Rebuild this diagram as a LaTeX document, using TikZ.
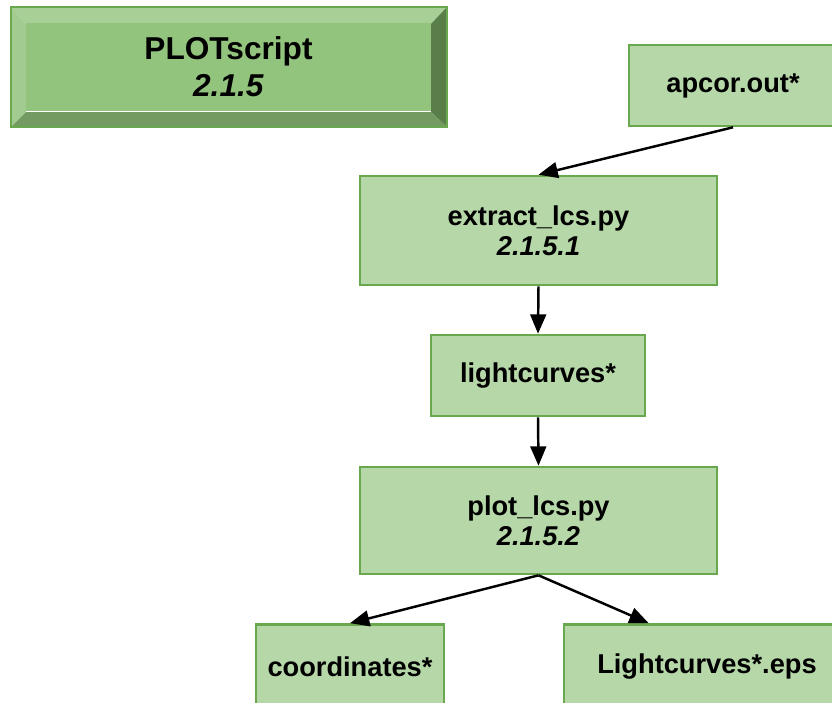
\documentclass[tikz,border=0pt]{standalone}
\usepackage{fontspec}
\setmainfont{Liberation Sans}
\usetikzlibrary{arrows.meta}

\definecolor{boxfill}{HTML}{B6D7A8}
\definecolor{boxline}{HTML}{6AA84F}
\definecolor{facefill}{HTML}{93C47D}
\definecolor{bevtop}{HTML}{A8CF96}
\definecolor{bevleft}{HTML}{A2CB90}
\definecolor{bevright}{HTML}{5A7E4A}
\definecolor{bevbottom}{HTML}{729A61}

\tikzset{
  filebox/.style={draw=boxline, fill=boxfill, line width=1.5pt, align=center,
    inner sep=0pt, font=\bfseries\fontsize{15.5}{17}\selectfont},
  titleface/.style={fill=facefill, align=center, inner sep=0pt,
    font=\bfseries\fontsize{18}{21}\selectfont},
  flow/.style={-{Triangle[length=11pt,width=9pt]}, line width=1.4pt},
}

\begin{document}
\begin{tikzpicture}[x=0.02cm, y=-0.02cm]
    \useasboundingbox (0,0) rectangle (832,703);
    \clip (0,0) rectangle (832,703);

    % Title block with bevelled edge
    \fill[bevtop] (11,7) -- (447,7) -- (431,24) -- (26,24) -- cycle;
    \fill[bevleft] (11,7) -- (26,24) -- (26,112) -- (11,127) -- cycle;
    \fill[bevright] (447,7) -- (447,127) -- (431,112) -- (431,24) -- cycle;
    \fill[bevbottom] (11,127) -- (447,127) -- (431,112) -- (26,112) -- cycle;
    \node[titleface, minimum width=8.1cm, minimum height=1.76cm] (title) at (228.5,67)
        {PLOTscript\\\textit{2.1.5}};
    \draw[boxline, line width=1.5pt] (11,7) rectangle (447,127);

    % Files and scripts
    \node[filebox, minimum width=4.16cm, minimum height=1.62cm] (apcor) at (733,85.5) {apcor.out*};
    \node[filebox, minimum width=7.14cm, minimum height=2.18cm] (extract) at (538.5,230.5)
        {extract\_lcs.py\\\textit{2.1.5.1}};
    \node[filebox, minimum width=4.28cm, minimum height=1.62cm] (lcs) at (538,375.5) {lightcurves*};
    \node[filebox, minimum width=7.14cm, minimum height=2.14cm] (plotlcs) at (538.5,520.5)
        {plot\_lcs.py\\\textit{2.1.5.2}};
    \node[filebox, minimum width=3.76cm, minimum height=1.7cm] (coords) at (350,667) {coordinates*};
    \node[filebox, minimum width=5.72cm, minimum height=1.7cm] (eps) at (707,667) {Lightcurves*.eps};

    % Connectors
    \draw[flow] (apcor.south) -- (extract.north);
    \draw[flow] (extract.south) -- (lcs.north);
    \draw[flow] (lcs.south) -- (plotlcs.north);
    \draw[flow] (plotlcs.south) -- (coords.north);
    \draw[flow] (plotlcs.south) -- ([xshift=1.72cm]eps.north west);
\end{tikzpicture}
\end{document}
